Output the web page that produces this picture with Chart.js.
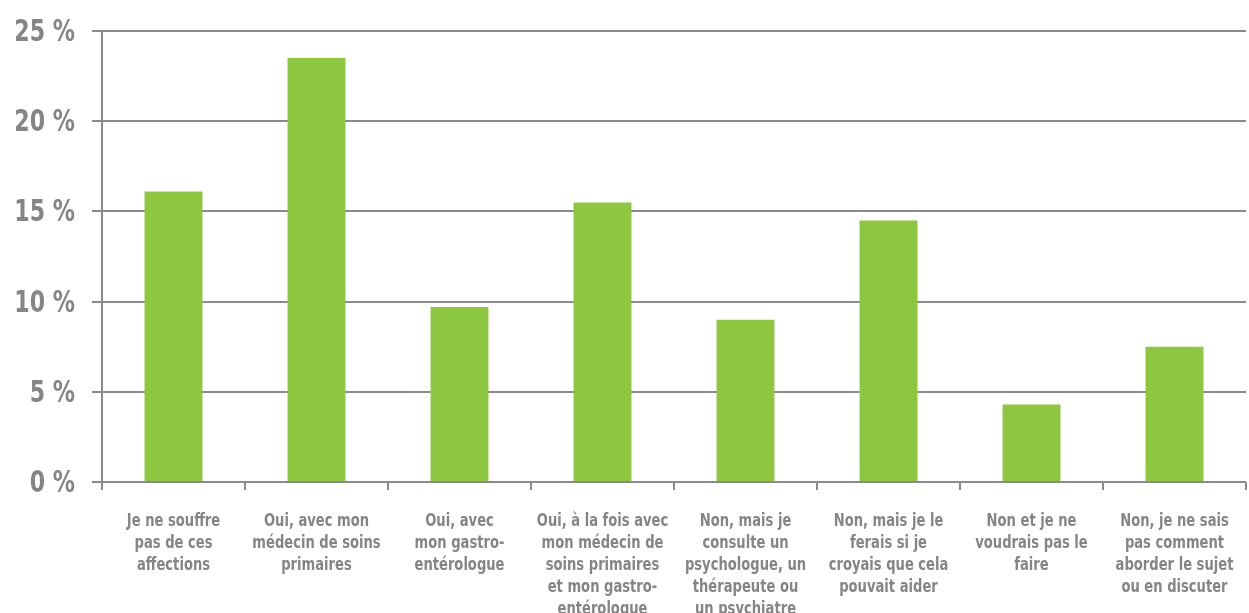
<!DOCTYPE html>
<html>
<head>
<meta charset="utf-8">
<script src="https://cdn.jsdelivr.net/npm/chart.js@4"></script>
<style>
  html, body { margin: 0; padding: 0; background: #fff; }
  #wrap { width: 1249px; height: 613px; }
</style>
</head>
<body>
<div id="wrap"><canvas id="chart" width="1249" height="613"></canvas></div>
<script>
// catégories (une ligne par élément du tableau)
const categories = [
  ["Je ne souffre", "pas de ces", "affections"],
  ["Oui, avec mon", "médecin de soins", "primaires"],
  ["Oui, avec", "mon gastro-", "entérologue"],
  ["Oui, à la fois avec", "mon médecin de", "soins primaires", "et mon gastro-", "entérologue"],
  ["Non, mais je", "consulte un", "psychologue, un", "thérapeute ou", "un psychiatre"],
  ["Non, mais je le", "ferais si je", "croyais que cela", "pouvait aider"],
  ["Non et je ne", "voudrais pas le", "faire"],
  ["Non, je ne sais", "pas comment", "aborder le sujet", "ou en discuter"]
];
const values = [16.1, 23.5, 9.7, 15.5, 9.0, 14.5, 4.3, 7.5];
const yTicks = [0, 5, 10, 15, 20, 25];

const FONT = "'DejaVu Sans Condensed', 'Liberation Sans Narrow', sans-serif";
const GREY = "#8a8a8a";
const TEXT = "#848587";

// étiquettes dessinées à la main pour pouvoir les resserrer horizontalement
const narrowLabels = {
  id: "narrowLabels",
  afterDraw(chart) {
    const ctx = chart.ctx;
    const xs = chart.scales.x, ys = chart.scales.y;
    ctx.save();
    ctx.fillStyle = TEXT;

    // axe Y
    ctx.font = "bold 30px " + FONT;
    ctx.textAlign = "right";
    ctx.textBaseline = "alphabetic";
    yTicks.forEach(v => {
      const y = ys.getPixelForValue(v);
      ctx.save();
      ctx.translate(75, y + 10);
      ctx.scale(0.82, 1);
      ctx.fillText(v + " %", 0, 0);
      ctx.restore();
    });

    // axe X
    ctx.font = "bold 18px " + FONT;
    ctx.textAlign = "center";
    categories.forEach((lines, i) => {
      const x = xs.getPixelForValue(i);
      lines.forEach((line, j) => {
        ctx.save();
        ctx.translate(x, xs.top + 44 + j * 22);
        ctx.scale(0.81, 1);
        ctx.fillText(line, 0, 0);
        ctx.restore();
      });
    });
    ctx.restore();
  }
};

new Chart(document.getElementById("chart").getContext("2d"), {
  type: "bar",
  data: {
    labels: categories,
    datasets: [{
      data: values,
      backgroundColor: "#8dc63f",
      borderWidth: 0,
      barPercentage: 0.405,
      categoryPercentage: 1
    }]
  },
  options: {
    responsive: false,
    animation: false,
    layout: { padding: { top: 31, right: 3, bottom: 0, left: 0 } },
    plugins: { legend: { display: false }, tooltip: { enabled: false } },
    scales: {
      x: {
        offset: true,
        grid: {
          offset: true,
          drawOnChartArea: false,
          drawTicks: true,
          tickLength: 8,
          color: GREY,
          lineWidth: 2
        },
        border: { display: false },
        ticks: { display: false },
        afterFit: s => { s.height = 131; }
      },
      y: {
        min: 0,
        max: 25,
        afterBuildTicks: s => { s.ticks = yTicks.map(v => ({ value: v })); },
        grid: { color: GREY, lineWidth: 2, tickLength: 10 },
        border: { display: true, color: GREY, width: 2 },
        ticks: { display: false },
        afterFit: s => { s.width = 102; }
      }
    }
  },
  plugins: [narrowLabels]
});
</script>
</body>
</html>
